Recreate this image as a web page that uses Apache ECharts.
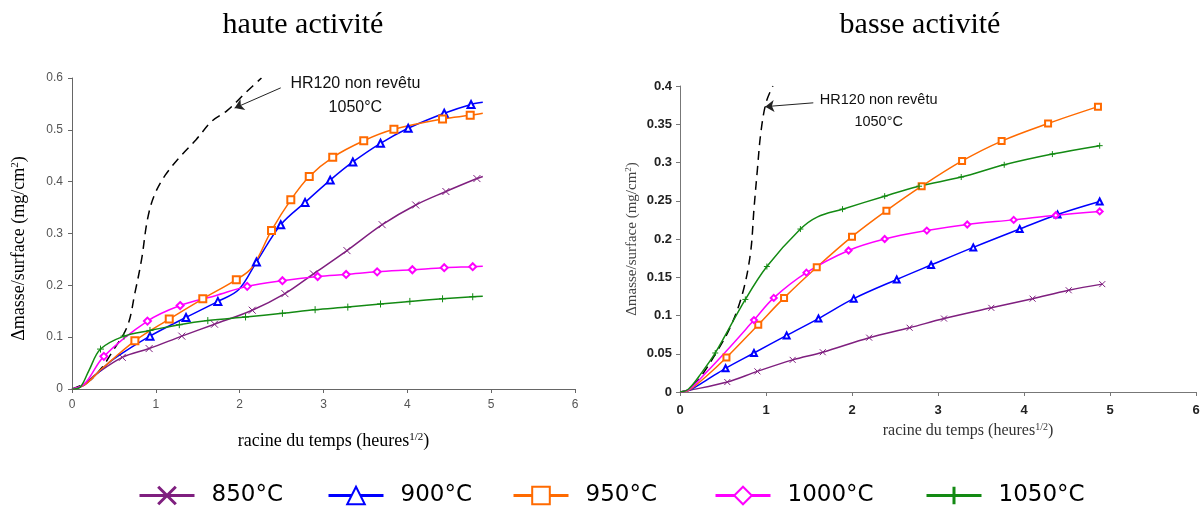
<!DOCTYPE html>
<html>
<head>
<meta charset="utf-8">
<script src="https://cdn.jsdelivr.net/npm/echarts@6/dist/echarts.min.js"></script>
<style>html,body{margin:0;padding:0;background:#fff}#c{width:1203px;height:510px}</style>
</head>
<body>
<div id="c"></div>
<script>
// ---------- DATA ----------
const seriesNames = ['850°C', '900°C', '950°C', '1000°C', '1050°C'];
const xTicks = [0, 1, 2, 3, 4, 5, 6];

// haute activité : [racine du temps, Δmasse/surface, (0 = point without marker)]
const haute850 = [[0,0,0],[0.1,0.004,0],[0.3,0.03,0],[0.6,0.061],[0.92,0.078],[1.31,0.102],[1.7,0.125],[2.15,0.152],[2.54,0.184],[2.88,0.222],[3.28,0.267],[3.7,0.317],[4.1,0.355],[4.46,0.381],[4.83,0.406],[4.9,0.41,0]];
const haute900 = [[0,0,0],[0.15,0.008,0],[0.3,0.03,0],[0.5,0.058,0],[0.93,0.102],[1.36,0.138],[1.74,0.169],[1.99,0.192,0],[2.2,0.245],[2.49,0.317],[2.78,0.36],[3.08,0.403],[3.35,0.438],[3.68,0.474],[4.01,0.503],[4.44,0.532],[4.76,0.549],[4.9,0.553,0]];
const haute950 = [[0,0,0],[0.15,0.008,0],[0.35,0.038,0],[0.75,0.093],[1.16,0.135],[1.56,0.174],[1.96,0.211],[2.15,0.235,0],[2.38,0.306],[2.61,0.365],[2.83,0.41],[3.11,0.447],[3.48,0.479],[3.84,0.501],[4.42,0.521],[4.75,0.528],[4.9,0.532,0]];
const haute1000 = [[0,0,0],[0.15,0.01,0],[0.38,0.063],[0.9,0.131],[1.29,0.161],[1.71,0.18,0],[2.09,0.198],[2.51,0.209],[2.93,0.217],[3.27,0.221],[3.64,0.226],[4.06,0.23],[4.44,0.234],[4.78,0.236],[4.9,0.237,0]];
const haute1050 = [[0,0,0],[0.1,0.004,0],[0.2,0.035,0],[0.34,0.077],[0.62,0.102],[0.93,0.113],[1.28,0.124],[1.62,0.132],[2.07,0.139],[2.51,0.146],[2.9,0.153],[3.29,0.158],[3.68,0.164],[4.03,0.169],[4.42,0.174],[4.78,0.178],[4.9,0.179,0]];
const hauteHR120 = [[0,0],[0.2,0.015],[0.35,0.04],[0.47,0.069],[0.66,0.121],[0.75,0.185],[0.83,0.25],[0.9,0.327],[0.98,0.373],[1.11,0.412],[1.3,0.45],[1.48,0.481],[1.67,0.517],[1.85,0.537],[2.08,0.573],[2.26,0.6]];

// basse activité
const basse850 = [[0,0,0],[0.1,0.002,0],[0.55,0.013],[0.9,0.027],[1.31,0.042],[1.66,0.052],[2.2,0.071],[2.67,0.084],[3.07,0.096],[3.62,0.11],[4.1,0.122],[4.52,0.133],[4.91,0.141]];
const basse900 = [[0,0,0],[0.1,0.002,0],[0.3,0.015,0],[0.53,0.031],[0.86,0.051],[1.24,0.074],[1.61,0.096],[2.02,0.122],[2.52,0.147],[2.92,0.166],[3.41,0.189],[3.95,0.213],[4.39,0.232],[4.88,0.249]];
const basse950 = [[0,0,0],[0.1,0.002,0],[0.3,0.02,0],[0.54,0.045],[0.91,0.088],[1.21,0.123],[1.59,0.163],[2.0,0.203],[2.4,0.237],[2.81,0.269],[3.28,0.302],[3.74,0.328],[4.28,0.351],[4.86,0.373]];
const basse1000 = [[0,0,0],[0.1,0.003,0],[0.3,0.025,0],[0.55,0.055,0],[0.86,0.094],[1.09,0.123],[1.47,0.156],[1.96,0.185],[2.38,0.2],[2.87,0.211],[3.34,0.219],[3.88,0.225],[4.37,0.231],[4.88,0.236]];
const basse1050 = [[0,0,0],[0.1,0.004,0],[0.25,0.025,0],[0.41,0.051],[0.76,0.121],[1.01,0.164],[1.4,0.213],[1.6,0.229,0],[1.89,0.239],[2.38,0.256],[2.78,0.269],[3.27,0.281],[3.77,0.297],[4.33,0.311],[4.88,0.322]];
const basseHR120 = [[0,0],[0.1,0.003],[0.24,0.02],[0.42,0.051],[0.59,0.086],[0.73,0.13],[0.82,0.182],[0.86,0.239],[0.9,0.291],[0.94,0.339],[1.0,0.378],[1.08,0.4]];

// annotations (data coordinates)
const hauteNote = [3.38, 0.567];
const hauteArrow = [[2.49, 0.581], [1.94, 0.542]];
const basseNote = [2.31, 0.367];
const basseArrow = [[1.55, 0.378], [0.99, 0.373]];
const noteText = 'HR120 non revêtu\n1050°C';

// ---------- STYLE ----------
const colors = ['#7f1f7f', '#0000ff', '#ff6a00', '#ff00ff', '#138a13'];
const symbols = ['path://M0,0L10,10M0,10L10,0', 'emptyTriangle', 'emptyRect', 'emptyDiamond', 'path://M5,0L5,10M0,5L10,5'];
const hauteSets = [haute850, haute900, haute950, haute1000, haute1050];
const basseSets = [basse850, basse900, basse950, basse1000, basse1050];
const legendLefts = [133, 322, 507, 709, 920];

function tempSeries(sets, idx, symSize) {
  return sets.map((d, i) => ({
    name: seriesNames[i], type: 'line', xAxisIndex: idx, yAxisIndex: idx,
    data: d.map(p => p[2] === 0 ? { value: [p[0], p[1]], symbol: 'none' } : { value: [p[0], p[1]] }),
    smooth: 0.35,
    symbol: symbols[i], symbolSize: symSize, showSymbol: true,
    lineStyle: { color: colors[i], width: 1.5 },
    itemStyle: { color: colors[i], borderColor: colors[i], borderWidth: 1 },
    z: 3
  }));
}
function hrSeries(d, idx, note, arrow, fs) {
  return {
    name: 'HR120', type: 'line', xAxisIndex: idx, yAxisIndex: idx, data: d,
    smooth: 0.35, symbol: 'none',
    lineStyle: { color: '#000', width: 1.5, type: [9, 6] }, z: 2,
    markPoint: {
      symbol: 'circle', symbolSize: 0, silent: true,
      label: { show: true, position: 'inside', formatter: noteText, fontSize: fs, lineHeight: fs * 1.5,
               color: '#111', fontFamily: 'Liberation Sans', align: 'center' },
      data: [{ coord: note }]
    },
    markLine: {
      symbol: ['none', 'arrow'], symbolSize: 9, silent: true, animation: false,
      lineStyle: { type: 'solid', color: '#222', width: 1 }, label: { show: false },
      data: [[{ coord: arrow[0] }, { coord: arrow[1] }]]
    }
  };
}

const serif = 'Liberation Serif';
const sup = { fontSize: 11, verticalAlign: 'top', fontFamily: serif, color: '#000', padding: [0, 0, 8, 0] };

const chart = echarts.init(document.getElementById('c'));
chart.setOption({
  animation: false,
  backgroundColor: '#fff',
  title: [
    { text: 'haute activité', left: 298, top: 5, textAlign: 'center',
      textStyle: { fontFamily: serif, fontWeight: 'normal', fontSize: 30, color: '#000' } },
    { text: 'basse activité', left: 915, top: 5, textAlign: 'center',
      textStyle: { fontFamily: serif, fontWeight: 'normal', fontSize: 30, color: '#000' } }
  ],
  legend: seriesNames.map((n, i) => ({
    data: [n], left: legendLefts[i], top: 479, itemWidth: 55, itemHeight: 22,
    selectedMode: false,
    textStyle: { fontSize: 23, fontFamily: 'DejaVu Sans', color: '#000', padding: [0, 0, 0, 12] },
    lineStyle: { width: 3 }, itemStyle: { borderWidth: 3 }
  })),
  grid: [
    { left: 72, top: 78, width: 503, height: 311 },
    { left: 680, top: 86, width: 516, height: 306 }
  ],
  xAxis: [
    { type: 'value', gridIndex: 0, min: xTicks[0], max: xTicks[xTicks.length - 1], interval: 1,
      axisLine: { lineStyle: { color: '#666', width: 1 } },
      axisTick: { show: true, length: 4, lineStyle: { color: '#666' } },
      axisLabel: { fontSize: 12, color: '#555', fontFamily: 'Liberation Sans', margin: 10 },
      splitLine: { show: false },
      name: 'racine du temps (heures{sup|1/2})', nameLocation: 'middle', nameGap: 43,
      nameTextStyle: { fontFamily: serif, fontSize: 18, color: '#000', padding: [0, 0, 0, 20], rich: { sup: sup } } },
    { type: 'value', gridIndex: 1, min: xTicks[0], max: xTicks[xTicks.length - 1], interval: 1,
      axisLine: { lineStyle: { color: '#777', width: 1 } },
      axisTick: { show: true, length: 4, lineStyle: { color: '#777' } },
      axisLabel: { fontSize: 13, color: '#222', fontWeight: 'bold', fontFamily: 'Liberation Sans', margin: 12 },
      splitLine: { show: false },
      name: 'racine du temps (heures{sup|1/2})', nameLocation: 'middle', nameGap: 27,
      nameTextStyle: { fontFamily: serif, fontSize: 16, color: '#333', padding: [0, 0, 0, 60],
        rich: { sup: Object.assign({}, sup, { fontSize: 10, color: '#333' }) } } }
  ],
  yAxis: [
    { type: 'value', gridIndex: 0, min: 0, max: 0.6, interval: 0.1,
      axisLine: { show: true, lineStyle: { color: '#666', width: 1 } },
      axisTick: { show: true, length: 4, lineStyle: { color: '#666' } },
      axisLabel: { fontSize: 12, color: '#555', fontFamily: 'Liberation Sans', margin: 9 },
      splitLine: { show: false },
      name: 'Δmasse/surface (mg/cm{sup|2})', nameLocation: 'middle', nameGap: 43,
      nameTextStyle: { fontFamily: serif, fontSize: 18, color: '#000', padding: [0, 30, 0, 0], rich: { sup: sup } } },
    { type: 'value', gridIndex: 1, min: 0, max: 0.4, interval: 0.05,
      axisLine: { show: true, lineStyle: { color: '#777', width: 1 } },
      axisTick: { show: true, length: 4, lineStyle: { color: '#777' } },
      axisLabel: { fontSize: 13, color: '#222', fontWeight: 'bold', fontFamily: 'Liberation Sans', margin: 8 },
      splitLine: { show: false },
      name: 'Δmasse/surface (mg/cm{sup|2})', nameLocation: 'middle', nameGap: 39,
      nameTextStyle: { fontFamily: serif, fontSize: 15, color: '#444',
        rich: { sup: Object.assign({}, sup, { fontSize: 9, color: '#444' }) } } }
  ],
  series: [
    hrSeries(hauteHR120, 0, hauteNote, hauteArrow, 16),
    ...tempSeries(hauteSets, 0, 7),
    hrSeries(basseHR120, 1, basseNote, basseArrow, 14.5),
    ...tempSeries(basseSets, 1, 6)
  ]
});
</script>
</body>
</html>
